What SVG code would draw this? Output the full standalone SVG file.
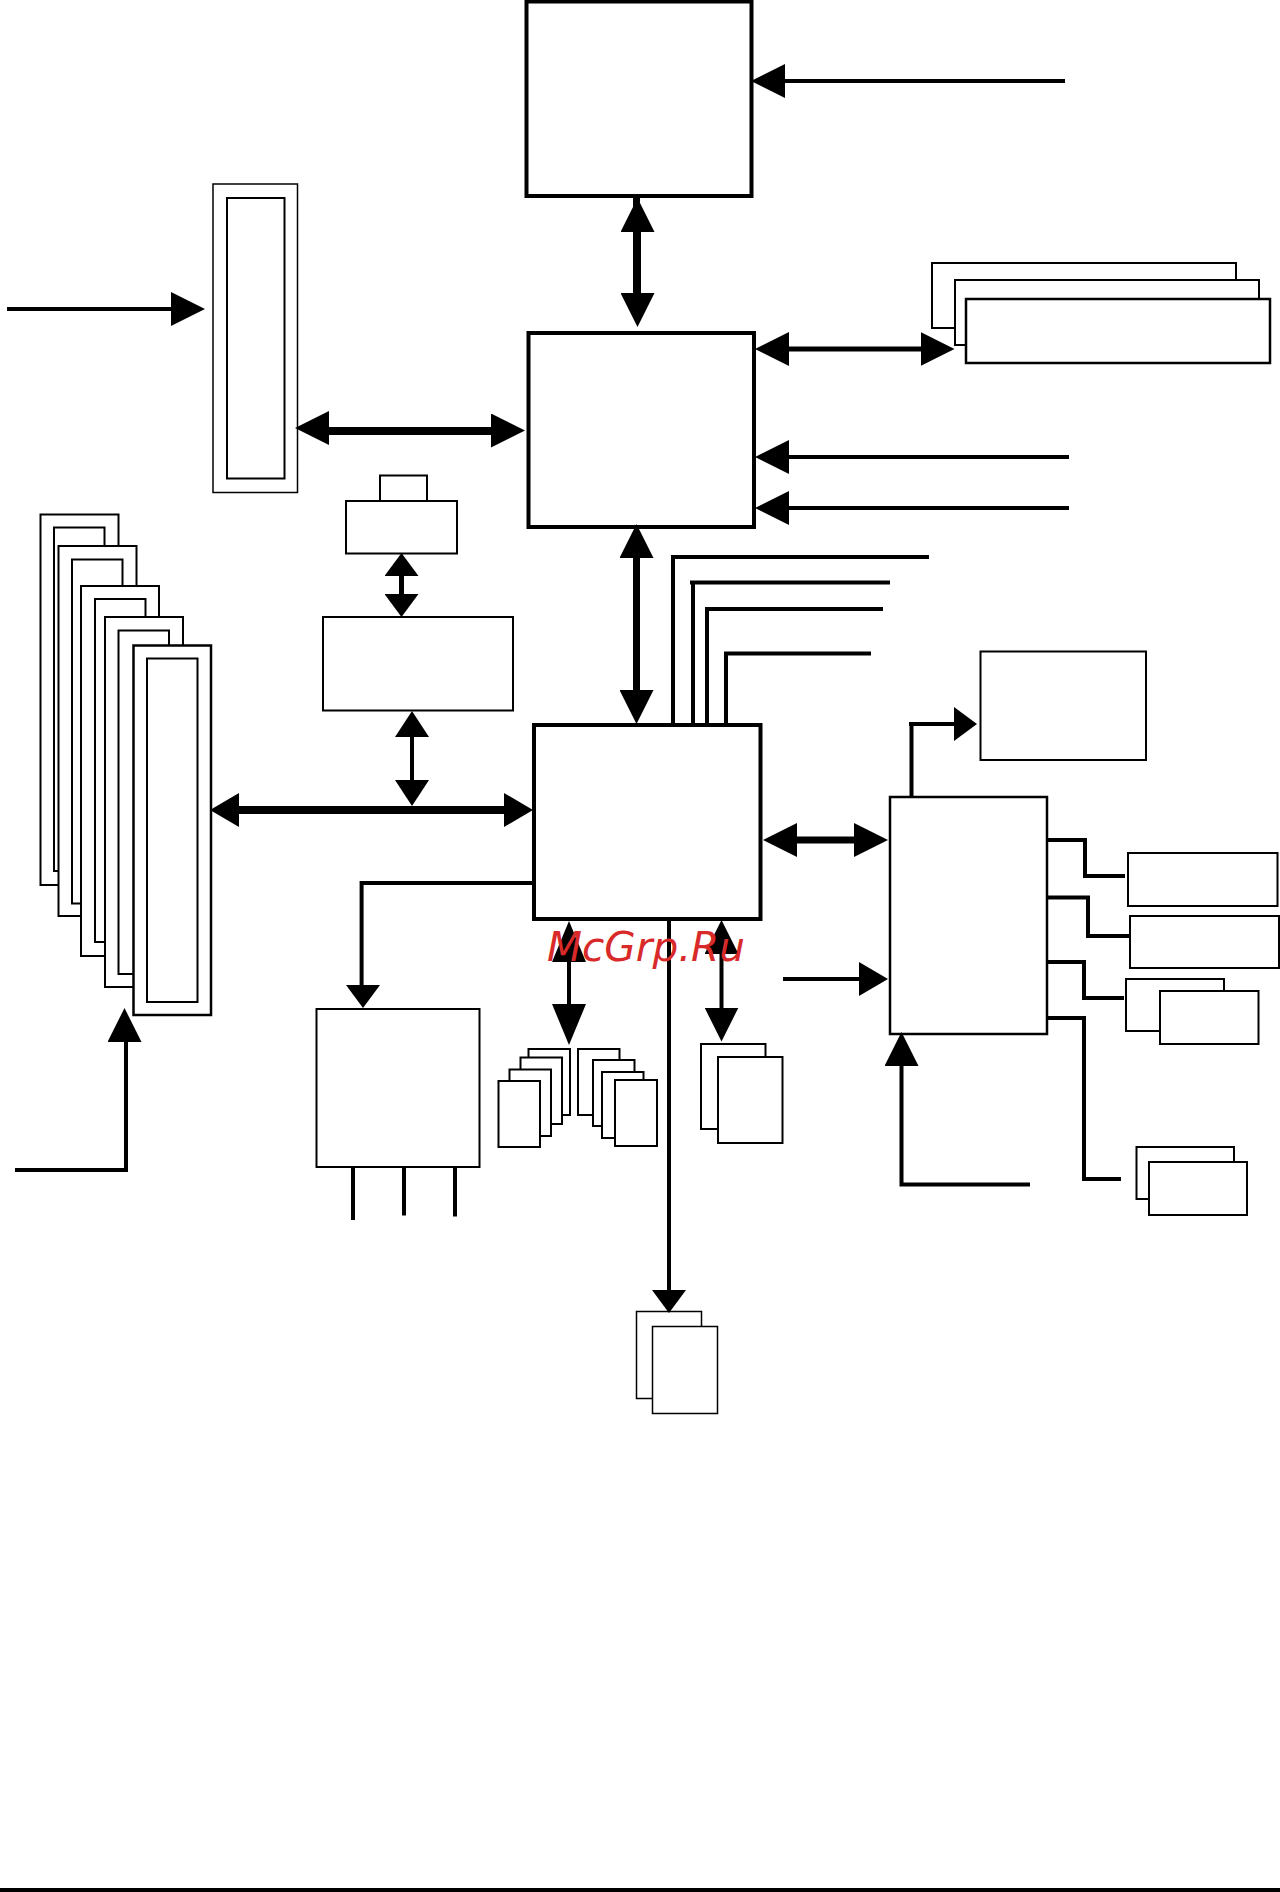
<svg xmlns="http://www.w3.org/2000/svg" width="1280" height="1892" viewBox="0 0 1280 1892">
<style>
rect{fill:#fff;stroke:#000;stroke-width:2}
.thin{stroke-width:1.5}
.mid{stroke-width:2.5}
.heavy{stroke-width:4}
#connectors path{fill:none;stroke:#000;stroke-width:4}
#connectors path.w7{stroke-width:7}
#connectors path.w8{stroke-width:8}
#connectors path.w5{stroke-width:5}
.mark{fill:#000;stroke:none}
.wm{font-family:"DejaVu Sans",sans-serif;font-style:italic;font-size:40px;fill:#d92a2a}
</style>
<defs>
<marker id="h34" markerUnits="userSpaceOnUse" viewBox="0 0 34 34" markerWidth="34" markerHeight="34" refX="1" refY="17" orient="auto-start-reverse"><path class="mark" d="M0 0L34 17L0 34Z"/></marker>
<marker id="h29" markerUnits="userSpaceOnUse" viewBox="0 0 29 34" markerWidth="29" markerHeight="34" refX="1" refY="17" orient="auto-start-reverse"><path class="mark" d="M0 0L29 17L0 34Z"/></marker>
<marker id="h26" markerUnits="userSpaceOnUse" viewBox="0 0 26 34" markerWidth="26" markerHeight="34" refX="1" refY="17" orient="auto-start-reverse"><path class="mark" d="M0 0L26 17L0 34Z"/></marker>
<marker id="h23" markerUnits="userSpaceOnUse" viewBox="0 0 23 34" markerWidth="23" markerHeight="34" refX="1" refY="17" orient="auto-start-reverse"><path class="mark" d="M0 0L23 17L0 34Z"/></marker>
<marker id="h41" markerUnits="userSpaceOnUse" viewBox="0 0 41 34" markerWidth="41" markerHeight="34" refX="1" refY="17" orient="auto-start-reverse"><path class="mark" d="M0 0L41 17L0 34Z"/></marker>
</defs>
<g id="cpu"><rect class="heavy" x="526.5" y="1.5" width="225" height="194.5"/></g>
<g id="north-bridge"><rect class="heavy" x="528.5" y="333" width="225.5" height="194"/></g>
<g id="south-bridge"><rect class="heavy" x="534" y="725" width="226.5" height="194"/></g>
<g id="agp-slot"><rect class="thin" x="213" y="184" width="84.5" height="308.5"/><rect x="227" y="198" width="57.5" height="280.5"/></g>
<g id="small-cap"><rect x="380" y="475.5" width="47" height="26"/></g>
<g id="small-box"><rect x="346" y="501" width="111" height="52.5"/></g>
<g id="mid-box"><rect x="323" y="617" width="190" height="93.5"/></g>
<g id="mem-1"><rect x="40.5" y="514.5" width="78" height="370.5"/><rect x="54" y="527.5" width="50.5" height="343.5"/></g>
<g id="mem-2"><rect x="58.5" y="546" width="78" height="370"/><rect x="72" y="559.5" width="50.5" height="344"/></g>
<g id="mem-3"><rect x="81" y="586" width="78" height="370"/><rect x="95" y="599" width="50.5" height="343"/></g>
<g id="mem-4"><rect x="105" y="617" width="78" height="370"/><rect x="118.5" y="630.5" width="50.5" height="343.5"/></g>
<g id="mem-5"><rect class="mid" x="133.5" y="645.5" width="77.5" height="369.5"/><rect x="147" y="658.5" width="50.5" height="343.5"/></g>
<g id="pci-stack"><rect x="932" y="263" width="304" height="65"/><rect x="955" y="280" width="304" height="65"/><rect class="mid" x="966" y="299" width="304" height="64"/></g>
<g id="left-box"><rect x="316.5" y="1009" width="163" height="158"/></g>
<g id="ide-left"><rect x="528.5" y="1049" width="41.5" height="66"/><rect x="520.5" y="1057.5" width="41.5" height="66.5"/><rect x="509.5" y="1069.5" width="41.5" height="66.5"/><rect x="498.5" y="1081" width="41.5" height="66"/></g>
<g id="ide-right"><rect x="578" y="1049" width="41.5" height="66"/><rect x="593" y="1060" width="41.5" height="66"/><rect x="602" y="1072" width="41.5" height="66"/><rect x="615" y="1080" width="42" height="66"/></g>
<g id="usb-box"><rect x="701" y="1044" width="64.5" height="85"/><rect x="718" y="1057" width="64.5" height="86"/></g>
<g id="bottom-box"><rect class="thin" x="636.5" y="1311.5" width="65" height="87"/><rect class="thin" x="652.5" y="1326.5" width="65" height="87"/></g>
<g id="top-right-box"><rect x="980.5" y="651.5" width="165.5" height="108.5"/></g>
<g id="io-chip"><rect class="mid" x="890" y="797" width="157" height="237"/></g>
<g id="r1"><rect x="1128" y="853" width="149.5" height="53"/></g>
<g id="r2"><rect x="1130" y="916" width="149" height="52"/></g>
<g id="r3"><rect x="1126" y="979" width="98" height="52"/><rect x="1160" y="991" width="98.5" height="53"/></g>
<g id="r4"><rect x="1136.5" y="1147" width="97.5" height="52"/><rect x="1149" y="1162" width="98" height="53"/></g>
<g id="connectors">
<path d="M7 309H172" marker-end="url(#h34)"/>
<path class="w7" d="M636.5 196V294"/>
<path class="w7" d="M637.5 231V294" marker-start="url(#h34)" marker-end="url(#h34)"/>
<path class="w8" d="M328 431H492"/>
<path d="M328 428H329" marker-start="url(#h34)"/>
<path d="M491 430.5H492" marker-end="url(#h34)"/>
<path class="w5" d="M401.5 575V595" marker-start="url(#h23)" marker-end="url(#h23)"/>
<path d="M412 736V781" marker-start="url(#h26)" marker-end="url(#h26)"/>
<path class="w8" d="M238 810H505" marker-start="url(#h29)" marker-end="url(#h29)"/>
<path d="M15 1170H126V1041"/>
<path d="M124.5 1042V1041" marker-end="url(#h34)"/>
<path d="M534 883H361.6V986"/>
<path d="M363 985V986" marker-end="url(#h23)"/>
<path d="M353 1167V1220"/><path d="M404 1167V1215.5"/><path d="M455 1167V1216.5"/>
<path d="M569 961V1005" marker-start="url(#h41)" marker-end="url(#h41)"/>
<path d="M669 919V1291" marker-end="url(#h23)"/>
<path d="M721.5 953V1008.5" marker-start="url(#h34)" marker-end="url(#h34)"/>
<path d="M1065 81H784" marker-end="url(#h34)"/>
<path class="w5" d="M788 349H921.5" marker-start="url(#h34)" marker-end="url(#h34)"/>
<path d="M1069 457H788" marker-end="url(#h34)"/>
<path d="M1069 508H788" marker-end="url(#h34)"/>
<path class="w7" d="M636.5 557V691" marker-start="url(#h34)" marker-end="url(#h34)"/>
<path d="M673 725V557H929"/>
<path d="M693 725V582.5H690M690 582.5H890"/>
<path d="M707 725V609H883"/>
<path d="M726 725V653.5H871"/>
<path class="w7" d="M796 840H855" marker-start="url(#h34)" marker-end="url(#h34)"/>
<path d="M911.5 797V724H909M909 724H955" marker-end="url(#h23)"/>
<path d="M783 979H860" marker-end="url(#h29)"/>
<path d="M1030 1184.5H901.5V1065" marker-end="url(#h34)"/>
<path d="M1047 840H1085V876H1125"/>
<path d="M1047 897.5H1088V936H1130"/>
<path d="M1047 962H1086M1084 962V998H1124"/>
<path d="M1047 1018H1084V1179H1121"/>
</g>
<rect id="rule" x="0" y="1888" width="1280" height="4" style="fill:#000;stroke:none"/>
<text class="wm" x="547" y="961" textLength="198" lengthAdjust="spacingAndGlyphs">McGrp.Ru</text>
</svg>
